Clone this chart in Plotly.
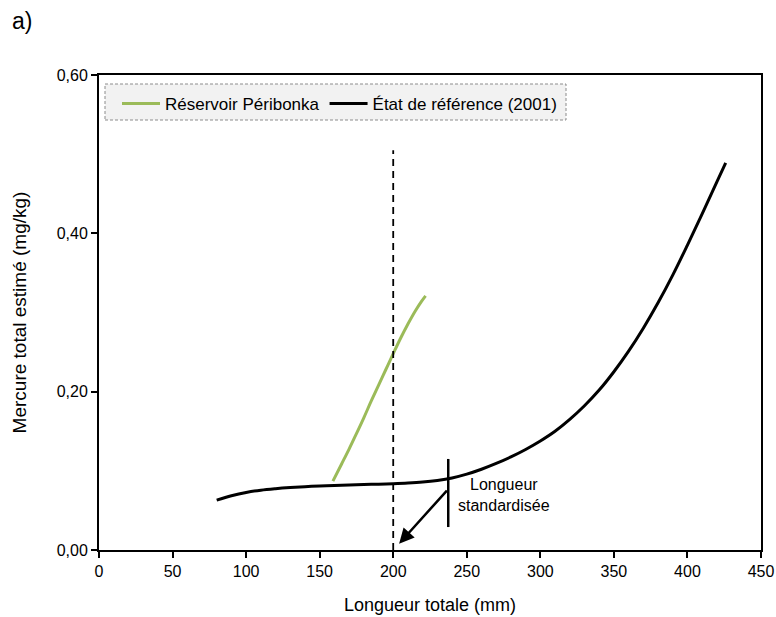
import plotly.graph_objects as go

# Data
ref_x = [80, 90, 100, 110, 120, 130, 140, 150, 160, 170, 180, 190, 200, 210, 220, 230, 240, 250,
         260, 270, 280, 290, 300, 310, 320, 330, 340, 350, 360, 370, 380, 390, 400, 410, 420, 426]
ref_y = [0.063, 0.0685, 0.0727, 0.0756, 0.0775, 0.0789, 0.0800, 0.0809, 0.0816, 0.0822, 0.0827,
         0.0832, 0.0838, 0.0846, 0.0858, 0.0878, 0.0910, 0.0958, 0.1020, 0.1093, 0.1176, 0.1270,
         0.1377, 0.1500, 0.1650, 0.1822, 0.2020, 0.2252, 0.2512, 0.2802, 0.3122, 0.3472, 0.3852,
         0.4245, 0.4650, 0.4890]

per_x = [159, 165, 170, 175, 180, 185, 190, 195, 200, 205, 210, 215, 219, 222]
per_y = [0.087, 0.109, 0.1275, 0.147, 0.167, 0.188, 0.208, 0.228, 0.248, 0.2675, 0.2855,
         0.3020, 0.3135, 0.321]

std_len = 200
std_line_top = 0.505
marker_x = 237.4
marker_y = [0.029, 0.115]
arrow_tail = (237.4, 0.077)
arrow_head = (204.0, 0.008)

x_ticks = [0, 50, 100, 150, 200, 250, 300, 350, 400, 450]
y_ticks = [0.0, 0.2, 0.4, 0.6]

FONT = "Liberation Sans, Arial, sans-serif"

fig = go.Figure()
fig.add_trace(go.Scatter(x=per_x, y=per_y, mode="lines", name="Réservoir Péribonka",
                         line=dict(color="#9bbb59", width=3, shape="spline")))
fig.add_trace(go.Scatter(x=ref_x, y=ref_y, mode="lines", name="État de référence (2001)",
                         line=dict(color="black", width=3, shape="spline")))
fig.add_trace(go.Scatter(x=[std_len, std_len], y=[0, std_line_top], mode="lines",
                         showlegend=False, line=dict(color="black", width=1.8, dash="7px,5px")))
fig.add_trace(go.Scatter(x=[marker_x, marker_x], y=marker_y, mode="lines",
                         showlegend=False, line=dict(color="black", width=2.5)))

fig.add_annotation(x=arrow_head[0], y=arrow_head[1], ax=arrow_tail[0], ay=arrow_tail[1],
                   xref="x", yref="y", axref="x", ayref="y", text="", showarrow=True,
                   arrowhead=2, arrowsize=1.2, arrowwidth=2.5, arrowcolor="black")
fig.add_annotation(x=275, y=0.070, xref="x", yref="y", text="Longueur<br>standardisée",
                   showarrow=False, font=dict(family=FONT, size=16, color="black"),
                   align="center")

pw, ph = 776 - 99 - 15, 617 - 75 - 67
fig.add_annotation(x=(22 - 99) / pw, y=(550 - 21) / ph, xref="paper", yref="paper", text="a)",
                   showarrow=False, xanchor="center", yanchor="middle",
                   font=dict(family=FONT, size=23, color="black"))

# legend box (dashed)
fig.add_shape(type="rect", xref="paper", yref="paper", x0=(105 - 99) / pw, x1=(566 - 99) / pw,
              y0=(550 - 120) / ph, y1=(550 - 84) / ph,
              line=dict(color="#8c8c8c", width=1, dash="3px,2px"), fillcolor="#f2f2f2", layer="below")

fig.update_layout(
    width=776, height=617,
    margin=dict(l=99, r=15, t=75, b=67),
    paper_bgcolor="white", plot_bgcolor="white",
    separators=", ",
    font=dict(family=FONT, size=16, color="black"),
    showlegend=True,
    legend=dict(orientation="h", x=(117 - 99) / pw, y=(550 - 86) / ph, xanchor="left", yanchor="top",
                bgcolor="rgba(0,0,0,0)", borderwidth=0, font=dict(family=FONT, size=17),
                itemwidth=38, tracegroupgap=0),
    xaxis=dict(range=[0, 450], tickvals=x_ticks, showgrid=False, zeroline=False,
               showline=True, linecolor="black", linewidth=2, mirror=True,
               ticks="outside", ticklen=6, tickwidth=1.5, tickcolor="black",
               tickfont=dict(size=16), automargin=False,
               title=dict(text="Longueur totale (mm)", standoff=19, font=dict(size=18))),
    yaxis=dict(range=[0, 0.6], tickvals=y_ticks, tickformat=".2f", showgrid=False, zeroline=False,
               showline=True, linecolor="black", linewidth=2, mirror=True,
               ticks="outside", ticklen=6, tickwidth=1.5, tickcolor="black",
               tickfont=dict(size=16), automargin=False,
               title=dict(text="Mercure total estimé (mg/kg)", standoff=25, font=dict(size=19))),
)

fig.write_html("out.html")
